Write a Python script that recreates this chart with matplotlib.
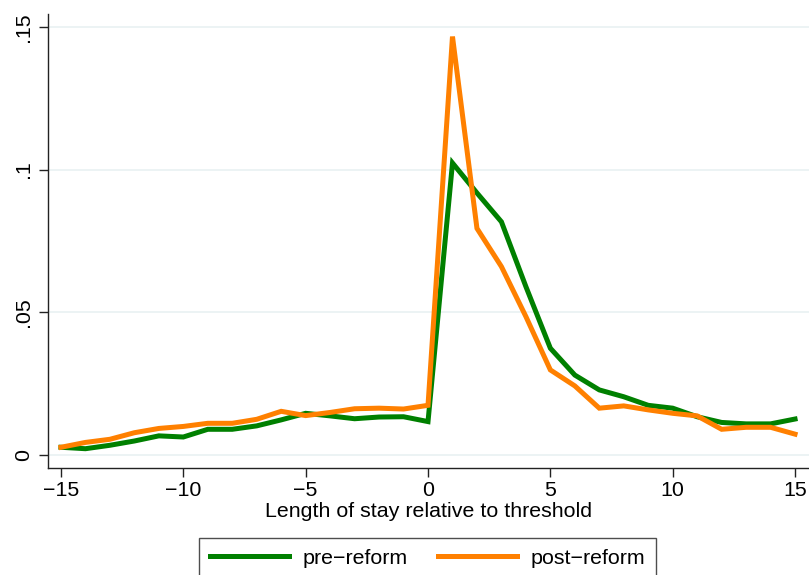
import matplotlib
matplotlib.use("Agg")
import matplotlib.pyplot as plt
from matplotlib.ticker import FixedLocator, FuncFormatter

plt.rcParams['font.family'] = ['Liberation Sans', 'DejaVu Sans']

# Distance in days from the length-of-stay threshold
days = list(range(-15, 16))

# Share of discharges, before the reform
pre_reform = [0.0027, 0.0022, 0.0034, 0.0049, 0.0067, 0.0063, 0.0090, 0.0090,
              0.0102, 0.0123, 0.0146, 0.0137, 0.0127, 0.0133, 0.0134, 0.0117,
              0.1023, 0.0918, 0.0817, 0.0590, 0.0374, 0.0280, 0.0228, 0.0204,
              0.0174, 0.0164, 0.0134, 0.0114, 0.0109, 0.0109, 0.0126]

# Share of discharges, after the reform
post_reform = [0.0027, 0.0044, 0.0055, 0.0078, 0.0093, 0.0100, 0.0111, 0.0111,
               0.0125, 0.0153, 0.0138, 0.0149, 0.0162, 0.0164, 0.0161, 0.0174,
               0.1466, 0.0794, 0.0660, 0.0485, 0.0298, 0.0242, 0.0164, 0.0172,
               0.0158, 0.0146, 0.0137, 0.0090, 0.0097, 0.0097, 0.0073]

x_ticks = [-15, -10, -5, 0, 5, 10, 15]
y_ticks = [0, 0.05, 0.10, 0.15]
y_tick_labels = ["0", ".05", ".1", ".15"]

FS = 15.4

fig = plt.figure(figsize=(8.09, 5.75), dpi=100)
ax = fig.add_axes([48 / 809, 1 - 468 / 575, 1 - 48 / 809, (468 - 14) / 575])

for y in y_ticks:
    ax.axhline(y, color="#eaf2f3", lw=1.3, zorder=0)

ax.plot(days, pre_reform, color="#008000", lw=3.6, label="pre\u2212reform",
        solid_joinstyle="miter")
ax.plot(days, post_reform, color="#ff8000", lw=3.6, label="post\u2212reform",
        solid_joinstyle="miter")

ax.set_xlim(-15.53, 15.57)
ax.set_ylim(-0.00456, 0.1545)

ax.xaxis.set_major_locator(FixedLocator(x_ticks))
ax.xaxis.set_major_formatter(FuncFormatter(lambda v, p: f"{int(v)}".replace("-", "\u2212")))
ax.set_yticks(y_ticks)
ax.set_yticklabels(y_tick_labels, rotation=90, va="center")

for side in ("top", "right"):
    ax.spines[side].set_visible(False)
for side in ("left", "bottom"):
    ax.spines[side].set_color("#222222")
    ax.spines[side].set_linewidth(1.0)

ax.tick_params(axis="both", direction="out", length=6.5, width=1.0,
               colors="#222222", labelcolor="black", labelsize=FS)
ax.tick_params(axis="x", pad=3)
ax.tick_params(axis="y", pad=4.5)

ax.set_xlabel("Length of stay relative to threshold", fontsize=FS, labelpad=1)

leg = fig.legend(loc="upper center", bbox_to_anchor=(427.5 / 809, 1 - 538 / 575),
                 ncol=2, fontsize=FS, frameon=True, fancybox=False,
                 edgecolor="#222222", handlelength=3.7, handletextpad=0.6,
                 columnspacing=1.45, borderpad=0.5, borderaxespad=0)
leg.get_frame().set_linewidth(1.0)
for line in leg.get_lines():
    line.set_linewidth(3.6)

fig.savefig("out.png", dpi=100)
